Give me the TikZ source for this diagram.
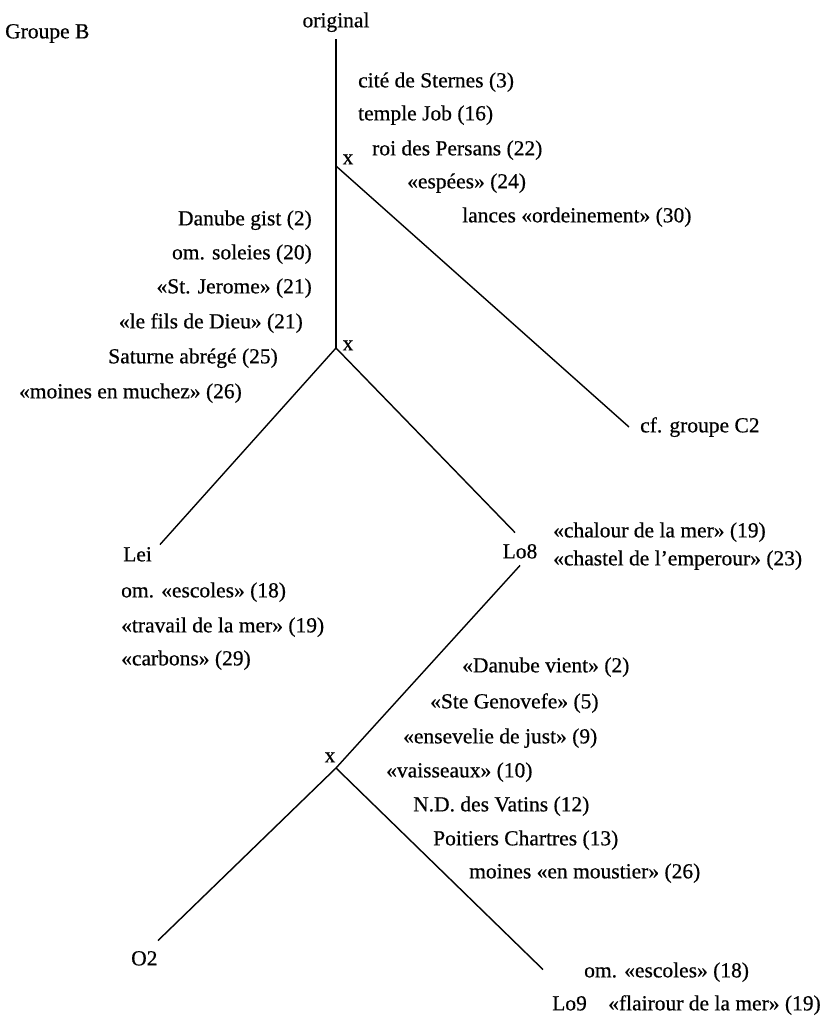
\documentclass[tikz,border=0pt]{standalone}
\usepackage{fontspec}
\setmainfont{Liberation Serif}[FakeBold=0.5]
\begin{document}
\begin{tikzpicture}[x=1pt,y=-1pt,
  lab/.style={font=\fontsize{21.5}{26}\selectfont, inner sep=0pt, text height=14.6pt, text depth=3.9pt},
  lw/.style={lab, anchor=west},
  le/.style={lab, anchor=east},
  branch/.style={line width=1.4pt, black}]
\useasboundingbox[fill=white] (0,0) rectangle (829,1022);

% title and root
\node[lw] (groupe) at (5,33) {Groupe B};
\node[lab] (orig) at (336,22) {original};

% junctions
\coordinate (j1) at (336,166);
\coordinate (j2) at (336,348);
\coordinate (j3) at (336,768);
\node[lab] (xa) at (348,159) {x};
\node[lab] (xb) at (348,345) {x};
\node[lab] (xc) at (330,757) {x};

% labels on first branch
\node[lw] (t1) at (358,82) {cité de Sternes (3)};
\node[lw] (t2) at (358,115) {temple Job (16)};
\node[lw] (t3) at (372,150) {roi des Persans (22)};
\node[lw] (t4) at (407,183) {«espées» (24)};
\node[lw] (t5) at (462,217) {lances «ordeinement» (30)};

% labels left of trunk
\node[le] (l1) at (312,220) {Danube gist (2)};
\node[le] (l2) at (312,254) {om. soleies (20)};
\node[le] (l3) at (312,288) {«St. Jerome» (21)};
\node[le] (l4) at (303,323) {«le fils de Dieu» (21)};
\node[le] (l5) at (278,358) {Saturne abrégé (25)};
\node[le] (l6) at (242,393) {«moines en muchez» (26)};

% leaves
\node[lw] (cf) at (640,427) {cf. groupe C2};
\node[lw] (Lei) at (123,556) {Lei};
\node[lab] (Lo8) at (520,553) {Lo8};
\node[lw] (O2) at (131,960) {O2};
\node[lw] (Lo9) at (552,1005) {Lo9};

% Lo8 labels
\node[lw] (c1) at (553,532) {«chalour de la mer» (19)};
\node[lw] (c2) at (553,560) {«chastel de l’emperour» (23)};

% Lei labels
\node[lw] (e1) at (121,592) {om. «escoles» (18)};
\node[lw] (e2) at (121,627) {«travail de la mer» (19)};
\node[lw] (e3) at (121,660) {«carbons» (29)};

% labels on Lo8 -> x branch
\node[lw] (d1) at (462,667) {«Danube vient» (2)};
\node[lw] (d2) at (430,703) {«Ste Genovefe» (5)};
\node[lw] (d3) at (403,738) {«ensevelie de just» (9)};
\node[lw] (d4) at (386,772) {«vaisseaux» (10)};
\node[lw] (d5) at (413,806) {N.D. des Vatins (12)};
\node[lw] (d6) at (433,840) {Poitiers Chartres (13)};
\node[lw] (d7) at (469,873) {moines «en moustier» (26)};

% Lo9 labels
\node[lw] (g1) at (584,972) {om. «escoles» (18)};
\node[lw] (g2) at (608,1005) {«flairour de la mer» (19)};

% connectors
\draw[branch] ([yshift=-8pt]orig.south) -- (j1) -- (j2);
\draw[branch] (j1) -- ([xshift=-11pt]cf.west);
\draw[branch] (j2) -- ([shift={(37pt,2pt)}]Lei.north west);
\draw[branch] (j2) -- ([shift={(-5pt,11pt)}]Lo8.north);
\draw[branch] ([yshift=-3pt]Lo8.south) -- (j3);
\draw[branch] (j3) -- ([shift={(27pt,10pt)}]O2.north west);
\draw[branch] (j3) -- ([shift={(-9pt,26pt)}]Lo9.north west);
\end{tikzpicture}
\end{document}
